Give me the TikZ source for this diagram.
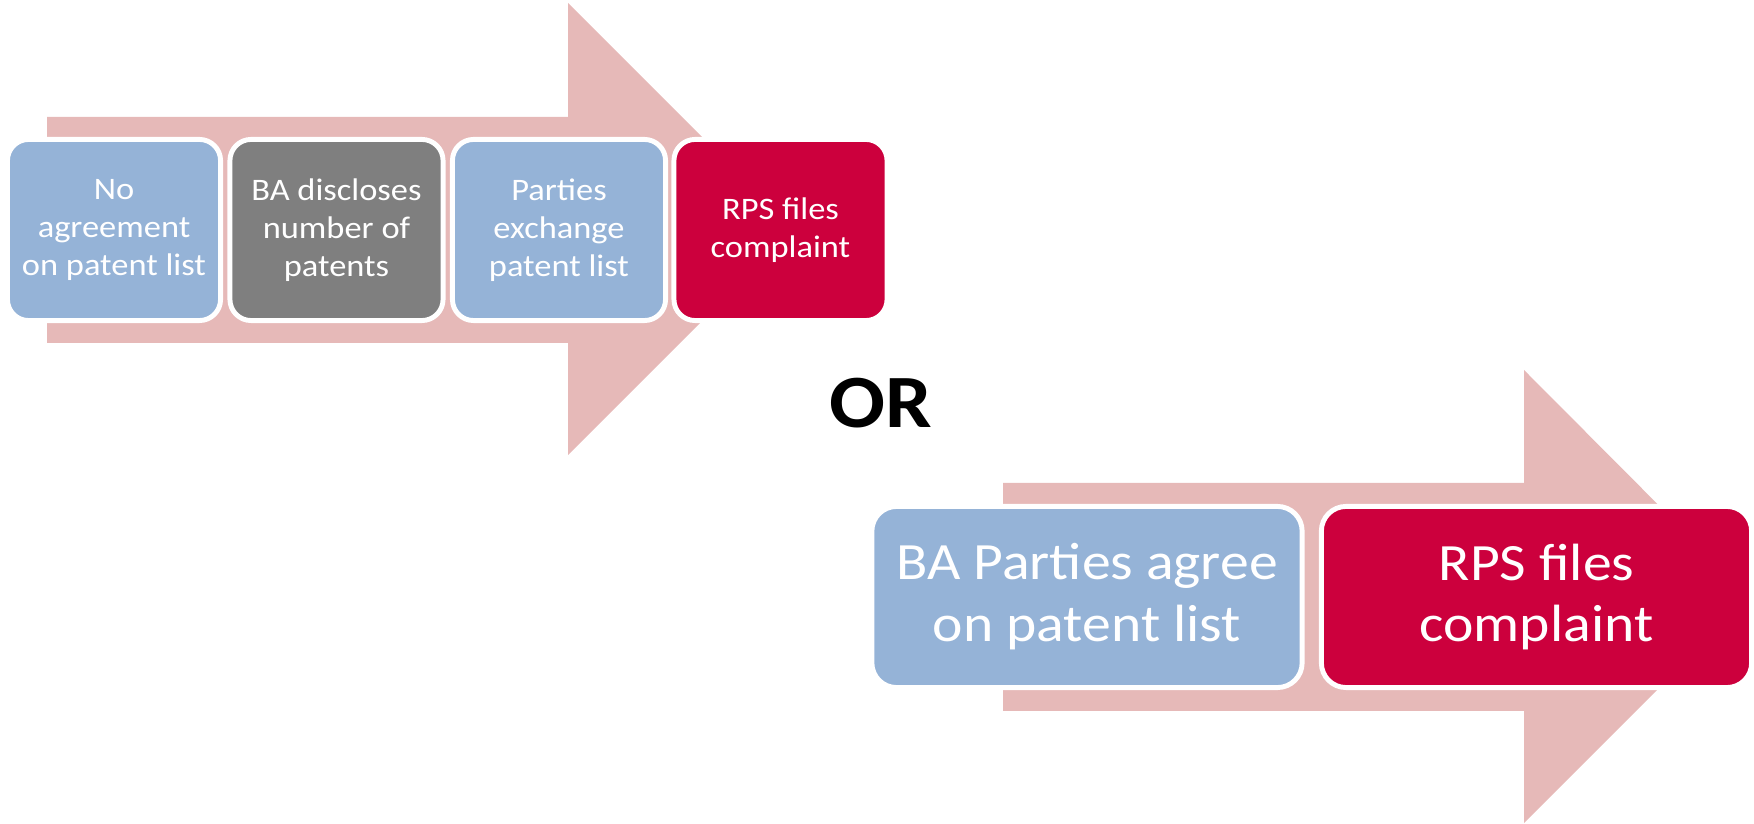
\documentclass[tikz,border=0pt]{standalone}
\usepackage{fontspec}
\setmainfont{Carlito}[FakeStretch=1.1]
\usepackage{xcolor}
\usepackage{tikz}
\usetikzlibrary{shapes.geometric, calc}

\definecolor{arrowpink}{HTML}{E6B9B8}
\definecolor{stepblue}{HTML}{95B3D7}
\definecolor{stepgray}{HTML}{7F7F7F}
\definecolor{stepred}{HTML}{CC003D}

\begin{document}
\begin{tikzpicture}[
x=0.01cm, y=0.01cm,
small box/.style = {draw=white, line width=1.4pt, rounded corners=6pt,
  minimum width=2.13cm, minimum height=1.81cm, align=center, text=white,
  font=\fontsize{8.9pt}{10.75pt}\selectfont},
large box/.style = {draw=white, line width=1.4pt, rounded corners=7pt,
  minimum width=4.3cm, minimum height=1.81cm, align=center, text=white,
  font=\fontsize{14.9pt}{17.6pt}\selectfont}
]

\useasboundingbox (0,0) rectangle (1754,824);

\fill[arrowpink] (47,707) -- (568,707) -- (568,821) -- (794,595) -- (568,369) -- (568,481) -- (47,481) -- cycle;
\fill[arrowpink] (1003,341) -- (1524,341) -- (1524,454) -- (1750,227) -- (1524,1) -- (1524,113) -- (1003,113) -- cycle;

\node (a1) at (114, 594) [small box, fill=stepblue] {No\\agreement\\on patent list};
\node (a2) at (336.5, 594) [small box, fill=stepgray] {BA discloses\\number of\\patents};
\node (a3) at (559, 594) [small box, fill=stepblue] {Parties\\exchange\\patent list};
\node (a4) at (780.5, 594) [small box, fill=stepred] {RPS files\\complaint};

\node (or) at (881, 421) [font=\fontsize{21.4pt}{25pt}\selectfont\bfseries] {OR};

\node (b1) at (1087, 227) [large box, fill=stepblue] {BA Parties agree\\on patent list};
\node (b2) at (1536.5, 227) [large box, fill=stepred] {RPS files\\complaint};
\end{tikzpicture}
\end{document}
